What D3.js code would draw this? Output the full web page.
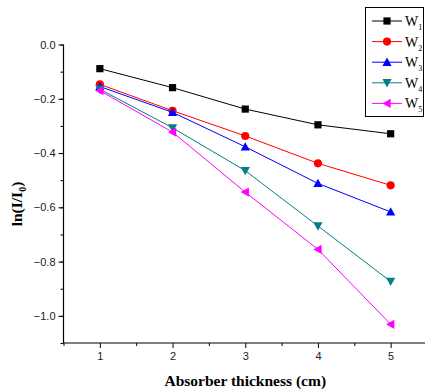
<!DOCTYPE html>
<html>
<head>
<meta charset="utf-8">
<script src="https://cdn.jsdelivr.net/npm/d3@7"></script>
<style>
  body { margin: 0; background: #fff; }
  svg { display: block; }
  .tick text { font-family: "Liberation Sans", Arial, sans-serif; font-size: 11px; fill: #222; }
</style>
</head>
<body>
<svg id="chart" width="425" height="392"></svg>
<script>
// thickness values (cm)
const thickness = [1, 2, 3, 4, 5];
const seriesNames = ["1", "2", "3", "4", "5"];
const w1 = [-0.089, -0.159, -0.238, -0.296, -0.329];
const w2 = [-0.147, -0.244, -0.337, -0.438, -0.519];
const w3 = [-0.155, -0.250, -0.377, -0.512, -0.617];
const w4 = [-0.165, -0.307, -0.465, -0.669, -0.873];
const w5 = [-0.170, -0.323, -0.544, -0.755, -1.031];
const yTicks = [0.0, -0.2, -0.4, -0.6, -0.8, -1.0];
const xTicks = [1, 2, 3, 4, 5];

const allSeries = [w1, w2, w3, w4, w5];
const colors = ["#000000", "#ff0000", "#0000ff", "#008080", "#ff00ff"];
const shapes = ["square", "circle", "up", "down", "left"];

const svg = d3.select("#chart");

const x = d3.scaleLinear().domain([0.5, 5.5]).range([63.5, 427]);
const y = d3.scaleLinear().domain([-1.1, 0]).range([343, 44.5]);

// minor ticks
svg.append("g")
    .attr("transform", "translate(63.5,0)")
    .call(d3.axisLeft(y).tickValues(d3.range(-11, 1).map(d => d / 10)).tickSize(3).tickFormat(""))
    .call(g => g.select(".domain").remove())
    .selectAll("line").attr("stroke", "#000");

svg.append("g")
    .attr("transform", "translate(0,343)")
    .call(d3.axisBottom(x).tickValues([0.5, 1.5, 2.5, 3.5, 4.5, 5.5]).tickSize(3).tickFormat(""))
    .call(g => g.select(".domain").remove())
    .selectAll("line").attr("stroke", "#000");

// y axis
const yAxis = svg.append("g")
    .attr("transform", "translate(63.5,0)")
    .call(d3.axisLeft(y).tickValues(yTicks).tickSize(5).tickPadding(3).tickFormat(d3.format(".1f")));
yAxis.select(".domain").attr("d", `M0,${y(0)}V${y(-1.1)}`).attr("stroke-width", 1.2);

// x axis
const xAxis = svg.append("g")
    .attr("transform", "translate(0,343)")
    .call(d3.axisBottom(x).tickValues(xTicks).tickSize(5).tickPadding(4).tickFormat(d3.format("d")));
xAxis.select(".domain").attr("d", `M${x(0.5)},0H${x(5.5)}`).attr("stroke-width", 1.2);

function symbolPath(shape) {
    if (shape === "circle") return d3.symbol(d3.symbolCircle, 52)();
    const s = 4.6;
    if (shape === "up") return `M0,${-s}L${s},${s * 0.8}L${-s},${s * 0.8}Z`;
    if (shape === "down") return `M0,${s}L${s},${-s * 0.8}L${-s},${-s * 0.8}Z`;
    return `M${-s},0L${s * 0.8},${-s}L${s * 0.8},${s}Z`;
}

function drawMarker(g, shape, cx, cy, color) {
    if (shape === "square") {
        g.append("rect").attr("x", cx - 3.6).attr("y", cy - 3.6).attr("width", 7.2).attr("height", 7.2).attr("fill", color);
    } else {
        g.append("path").attr("d", symbolPath(shape))
            .attr("transform", `translate(${cx},${cy})`).attr("fill", color);
    }
}

const line = d3.line().x((d, i) => x(thickness[i])).y(d => y(d));

allSeries.forEach((vals, k) => {
    const g = svg.append("g");
    g.append("path").datum(vals).attr("d", line)
        .attr("fill", "none").attr("stroke", colors[k]).attr("stroke-width", 1);
    vals.forEach((v, i) => drawMarker(g, shapes[k], x(thickness[i]), y(v), colors[k]));
});

// legend
const legend = svg.append("g");
legend.append("rect").attr("x", 365.5).attr("y", 7.5).attr("width", 58).attr("height", 109)
    .attr("fill", "#fff").attr("stroke", "#000").attr("stroke-width", 1);
seriesNames.forEach((name, k) => {
    const ly = 21 + k * 20.6;
    legend.append("line").attr("x1", 372).attr("x2", 402).attr("y1", ly).attr("y2", ly)
        .attr("stroke", colors[k]).attr("stroke-width", 1);
    drawMarker(legend, shapes[k], 387, ly, colors[k]);
    const t = legend.append("text").attr("x", 405).attr("y", ly + 5)
        .style("font-family", "'Liberation Serif', 'Times New Roman', serif").style("font-size", "14px");
    t.append("tspan").text("W");
    t.append("tspan").attr("dy", 4).style("font-size", "8px").text(name);
});

// axis titles
svg.append("text")
    .attr("x", x(3)).attr("y", 386)
    .attr("text-anchor", "middle")
    .style("font-family", "'Liberation Serif', 'Times New Roman', serif")
    .style("font-size", "15.5px").style("font-weight", "bold")
    .text("Absorber thickness (cm)");

const yl = svg.append("text")
    .attr("transform", "translate(22,204) rotate(-90)")
    .attr("text-anchor", "middle")
    .style("font-family", "'Liberation Serif', 'Times New Roman', serif")
    .style("font-size", "15.5px").style("font-weight", "bold");
yl.append("tspan").text("ln(I/I");
yl.append("tspan").attr("dy", 4).style("font-size", "10px").text("0");
yl.append("tspan").attr("dy", -4).text(")");
</script>
</body>
</html>
